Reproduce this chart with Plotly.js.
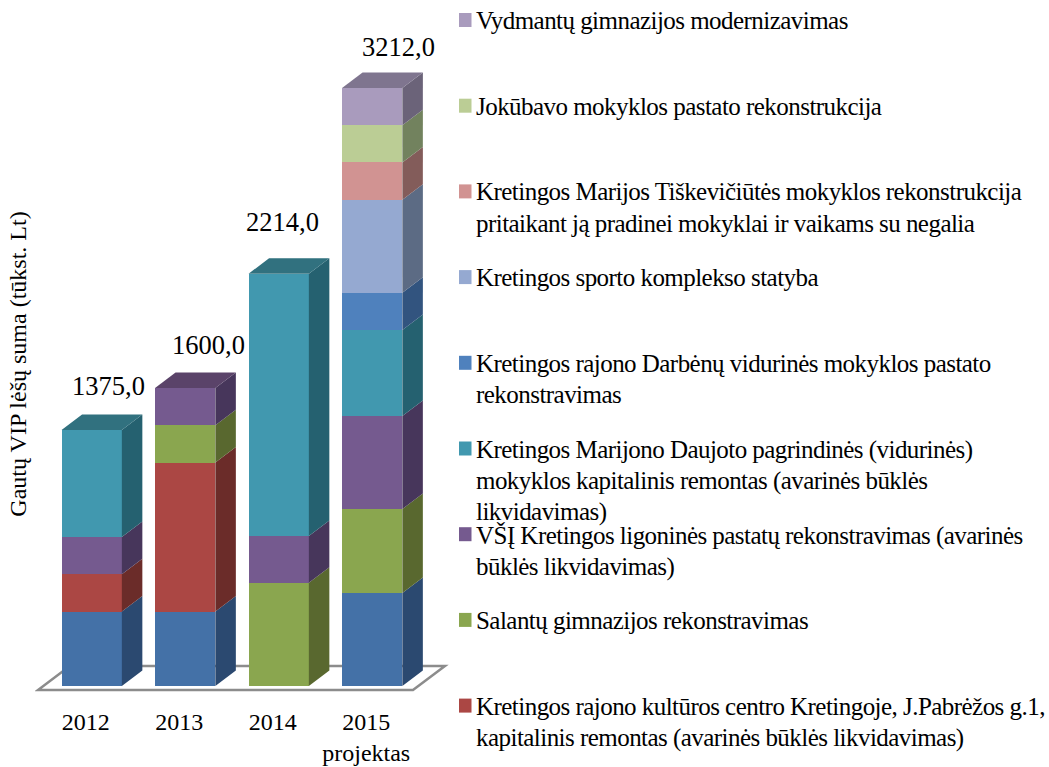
<!DOCTYPE html>
<html><head><meta charset="utf-8">
<script src="https://cdn.plot.ly/plotly-3.0.1.min.js"></script>
<style>
html,body{margin:0;padding:0;background:#fff}
</style></head><body>
<div id="chart" style="width:1049px;height:767px"></div>
<script>
const categories = ["2012","2013","2014","2015"];
const tickLabels = ["2012","2013","2014","2015<br>projektas"];
const names = [
  "Kretingos rajono kultūros centro Kretingoje, J.Pabrėžos g.1,<br>kapitalinis remontas (avarinės būklės likvidavimas)",
  "Salantų gimnazijos rekonstravimas",
  "VŠĮ Kretingos ligoninės pastatų rekonstravimas (avarinės<br>būklės likvidavimas)",
  "Kretingos Marijono Daujoto pagrindinės (vidurinės)<br>mokyklos kapitalinis remontas (avarinės būklės<br>likvidavimas)",
  "Kretingos rajono Darbėnų vidurinės mokyklos pastato<br>rekonstravimas",
  "Kretingos sporto komplekso statyba",
  "Kretingos Marijos Tiškevičiūtės mokyklos rekonstrukcija<br>pritaikant ją pradinei mokyklai ir vaikams su negalia",
  "Jokūbavo mokyklos pastato rekonstrukcija",
  "Vydmantų gimnazijos modernizavimas"
];
// The lowest blue block has no entry of its own in the legend.
const baseBlue   = [400, 400,   0, 500];
const kultura    = [200, 800,   0,   0];
const salantai   = [  0, 200, 555, 450];
const ligonine   = [200, 200, 250, 500];
const daujotas   = [575,   0,1409, 462];
const darbenai   = [  0,   0,   0, 200];
const sportas    = [  0,   0,   0, 500];
const tiskeviciute=[  0,   0,   0, 200];
const jokubavas  = [  0,   0,   0, 200];
const vydmantai  = [  0,   0,   0, 200];
const stackValues = [baseBlue,kultura,salantai,ligonine,daujotas,darbenai,sportas,tiskeviciute,jokubavas,vydmantai];
const frontColors = ["#4471A7","#AB4744","#8AA64F","#755A8F","#4198AF","#4F81BD","#95A9D1","#D19392","#BBCD95","#A99BBD"];
const sideColors  = ["#2B4970","#6B2C29","#59682F","#47365B","#256170","#32547F","#5C6B84","#835C5A","#72825E","#6B6379"];
const topColors   = ["#345A88","#853633","#6C803B","#5A4369","#31717F","#3D659A","#76869F","#A07472","#8F9F75","#7F758F"];

const W=1049,H=767,L=35,R=460,T=28,B=700;
const pxPerCat=93.5, pxPerUnit=0.1862, zeroX=91.7, zeroY=686;
const barW=60.3/pxPerCat, depthX=20.5/pxPerCat, depthY=15.5/pxPerUnit;
const xRange=[(L-zeroX)/pxPerCat,(R-zeroX)/pxPerCat];
const yRange=[(zeroY-B)/pxPerUnit,(zeroY-T)/pxPerUnit];
const xs=categories.map((c,i)=>i);

const traces=[];
const totals=categories.map((c,i)=>stackValues.reduce((s,a)=>s+a[i],0));
const running=categories.map(()=>0);
stackValues.forEach((vals,k)=>{
  traces.push({type:"bar",x:xs,y:vals,width:barW,marker:{color:frontColors[k],line:{width:0}},
    name:k?names[k-1]:"",hoverinfo:"skip"});
  const sx=[],sy=[],tx=[],ty=[];
  vals.forEach((v,i)=>{
    if(!v) return;
    const y0=running[i],y1=y0+v,xr=i+barW/2,xl=i-barW/2;
    sx.push(xr,xr+depthX,xr+depthX,xr,xr,null);
    sy.push(y0,y0+depthY,y1+depthY,y1,y0,null);
    if(y1===totals[i]){
      tx.push(xl,xr,xr+depthX,xl+depthX,xl,null);
      ty.push(y1,y1,y1+depthY,y1+depthY,y1,null);
    }
    running[i]=y1;
  });
  traces.push({type:"scatter",mode:"lines",x:sx,y:sy,fill:"toself",fillcolor:sideColors[k],line:{width:0},hoverinfo:"skip",showlegend:false});
  if(tx.length) traces.push({type:"scatter",mode:"lines",x:tx,y:ty,fill:"toself",fillcolor:topColors[k],line:{width:0},hoverinfo:"skip",showlegend:false});
});

const px=x=>(x-L)/(R-L), py=y=>(B-y)/(B-T);
const serif="'Liberation Serif','Times New Roman',serif";
const labelShiftX=[17,23,4,26], labelShiftY=[44,43,52,41];
const annotations=totals.map((t,i)=>({x:i,y:t,xref:"x",yref:"y",text:t.toFixed(1).replace(".",","),showarrow:false,
  xanchor:"center",yanchor:"middle",xshift:labelShiftX[i],yshift:labelShiftY[i],font:{family:serif,size:26.5,color:"#000"}}));
const shapes=[{type:"path",layer:"below",xref:"x",yref:"y",
  path:"M-0.574,-21.5 L3.436,-21.5 L3.778,107 L-0.234,107 Z",fillcolor:"#fff",line:{color:"#8C8C8C",width:2.5}}];
const legendOrder=[8,7,6,5,4,3,2,1,0];
legendOrder.forEach((n,row)=>{
  const top=13+85.7*row;
  shapes.push({type:"rect",xref:"paper",yref:"paper",layer:"above",x0:px(459),x1:px(471.5),y0:py(top),y1:py(top+14),
    fillcolor:frontColors[n+1],line:{width:0}});
  names[n].split("<br>").forEach((line,j)=>{
    annotations.push({xref:"paper",yref:"paper",x:px(474),y:py(top-8+31.3*j),xanchor:"left",yanchor:"top",align:"left",showarrow:false,
      text:line,font:{family:serif,size:25,color:"#000"}});
  });
});

const layout={width:W,height:H,margin:{l:L,r:W-R,t:T,b:H-B,pad:0},paper_bgcolor:"#fff",plot_bgcolor:"rgba(0,0,0,0)",
  barmode:"stack",showlegend:false,font:{family:serif,color:"#000"},
  xaxis:{range:xRange,tickmode:"array",tickvals:xs.map(i=>i-6/pxPerCat),ticktext:tickLabels,showgrid:false,zeroline:false,showline:false,
    ticks:"",ticklabelstandoff:5,tickfont:{family:serif,size:24,color:"#000"},fixedrange:true},
  yaxis:{range:yRange,showticklabels:false,showgrid:false,zeroline:false,showline:false,ticks:"",fixedrange:true,
    title:{text:"Gautų VIP lėšų suma (tūkst. Lt)",font:{family:serif,size:24,color:"#000"},standoff:5}},
  annotations,shapes};
Plotly.newPlot("chart",traces,layout,{displayModeBar:false,responsive:false}).then(()=>{
  document.querySelectorAll(".annotation-text").forEach(t=>{
    if(t.textContent.length>8) t.style.letterSpacing="-0.54px";
  });
  document.querySelectorAll(".g-ytitle").forEach(g=>g.setAttribute("transform","translate(5,0)"));
});
</script></body></html>
